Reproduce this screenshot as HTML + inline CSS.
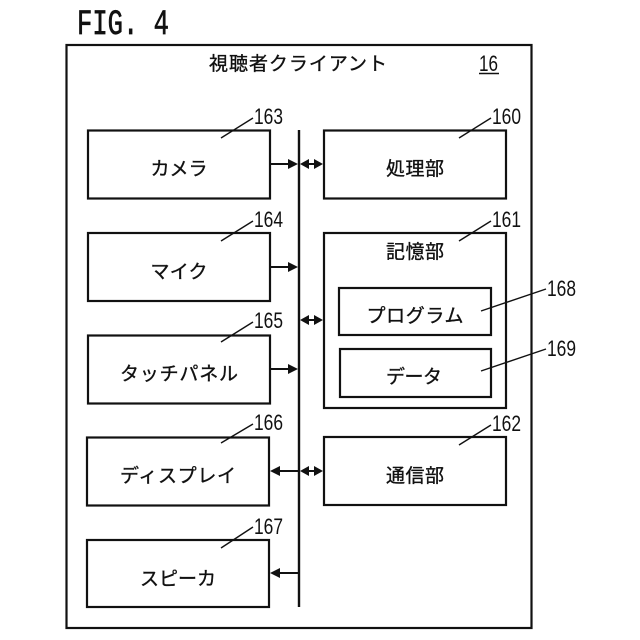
<!DOCTYPE html>
<html><head><meta charset="utf-8"><style>
html,body{margin:0;padding:0;background:#fff}
svg{display:block}
text{font-family:"Liberation Sans","Noto Sans CJK JP",sans-serif;fill:#111}
.j{font-size:19px;text-anchor:middle;stroke:#111;stroke-width:.35px}
.n{font-size:22px;font-family:"Liberation Sans",sans-serif}
rect{fill:none;stroke:#111;stroke-width:2.2}
line{stroke:#111}
.l{stroke-width:1.4}
.a{stroke-width:2}
polygon{fill:#111}
</style></head><body>
<svg width="640" height="640" viewBox="0 0 640 640" xmlns="http://www.w3.org/2000/svg">
<text x="77" y="34" style="font-family:'Liberation Mono',monospace;font-size:35px;stroke:#111;stroke-width:.7px" textLength="92" lengthAdjust="spacingAndGlyphs">FIG. 4</text>
<rect x="66.5" y="45" width="465" height="583"/>
<text x="298" y="70" class="j" textLength="178" lengthAdjust="spacing">視聴者クライアント</text>
<text x="479" y="71" class="n" textLength="19" lengthAdjust="spacingAndGlyphs">16</text>
<line x1="479" y1="73.5" x2="499" y2="73.5" stroke-width="1.6"/>

<rect x="88" y="130.5" width="182" height="68"/>
<rect x="88" y="233" width="182" height="68"/>
<rect x="88" y="335.5" width="182" height="68"/>
<rect x="87" y="437.5" width="182" height="68"/>
<rect x="87" y="540" width="182" height="67"/>
<rect x="324" y="130.5" width="182" height="68"/>
<rect x="324" y="233" width="182" height="175"/>
<rect x="339" y="288" width="152" height="47"/>
<rect x="340" y="349" width="151" height="48"/>
<rect x="324" y="437" width="182" height="68"/>

<text x="179" y="175" class="j" textLength="57" lengthAdjust="spacing">カメラ</text>
<text x="179" y="278" class="j" textLength="57" lengthAdjust="spacing">マイク</text>
<text x="179" y="380" class="j" textLength="118" lengthAdjust="spacing">タッチパネル</text>
<text x="178" y="482" class="j" textLength="116" lengthAdjust="spacing">ディスプレイ</text>
<text x="178" y="585" class="j" textLength="76" lengthAdjust="spacing">スピーカ</text>
<text x="415" y="175" class="j" textLength="58" lengthAdjust="spacing">処理部</text>
<text x="415" y="258" class="j" textLength="58" lengthAdjust="spacing">記憶部</text>
<text x="415" y="322" class="j" textLength="97" lengthAdjust="spacing">プログラム</text>
<text x="414" y="383" class="j" textLength="56" lengthAdjust="spacing">データ</text>
<text x="415" y="482" class="j" textLength="58" lengthAdjust="spacing">通信部</text>

<g>
<text class="n" x="254" y="124" textLength="29" lengthAdjust="spacingAndGlyphs">163</text>
<text class="n" x="254" y="227" textLength="29" lengthAdjust="spacingAndGlyphs">164</text>
<text class="n" x="254" y="328" textLength="29" lengthAdjust="spacingAndGlyphs">165</text>
<text class="n" x="254" y="430" textLength="29" lengthAdjust="spacingAndGlyphs">166</text>
<text class="n" x="254" y="534" textLength="29" lengthAdjust="spacingAndGlyphs">167</text>
<text class="n" x="492" y="124" textLength="29" lengthAdjust="spacingAndGlyphs">160</text>
<text class="n" x="492" y="227" textLength="29" lengthAdjust="spacingAndGlyphs">161</text>
<text class="n" x="492" y="431" textLength="29" lengthAdjust="spacingAndGlyphs">162</text>
<text class="n" x="547" y="296" textLength="29" lengthAdjust="spacingAndGlyphs">168</text>
<text class="n" x="547" y="356" textLength="29" lengthAdjust="spacingAndGlyphs">169</text>
</g>

<line class="l" x1="221" y1="138" x2="253" y2="118"/>
<line class="l" x1="221" y1="241" x2="253" y2="221"/>
<line class="l" x1="221" y1="342" x2="253" y2="322"/>
<line class="l" x1="221" y1="443" x2="253" y2="424"/>
<line class="l" x1="221" y1="548" x2="253" y2="527"/>
<line class="l" x1="459" y1="138" x2="491" y2="118"/>
<line class="l" x1="459" y1="241" x2="491" y2="221"/>
<line class="l" x1="459" y1="445" x2="491" y2="425"/>
<line class="l" x1="481" y1="311" x2="546" y2="289"/>
<line class="l" x1="481" y1="371" x2="546" y2="349"/>

<line x1="299" y1="130" x2="299" y2="607" stroke-width="2.4"/>

<line class="a" x1="270" y1="164" x2="292" y2="164"/><polygon points="298,164 288,159 288,169"/>
<line class="a" x1="270" y1="267" x2="292" y2="267"/><polygon points="298,267 288,262 288,272"/>
<line class="a" x1="270" y1="369" x2="292" y2="369"/><polygon points="298,369 288,364 288,374"/>
<line class="a" x1="275" y1="471" x2="298" y2="471"/><polygon points="270,471 280,466 280,476"/>
<line class="a" x1="275" y1="573" x2="298" y2="573"/><polygon points="270,573 280,568 280,578"/>

<line class="a" x1="305" y1="164" x2="318" y2="164"/><polygon points="300,164 309,159 309,169"/><polygon points="323,164 314,159 314,169"/>
<line class="a" x1="305" y1="320" x2="318" y2="320"/><polygon points="300,320 309,315 309,325"/><polygon points="323,320 314,315 314,325"/>
<line class="a" x1="305" y1="471" x2="318" y2="471"/><polygon points="300,471 309,466 309,476"/><polygon points="323,471 314,466 314,476"/>
</svg>
</body></html>
